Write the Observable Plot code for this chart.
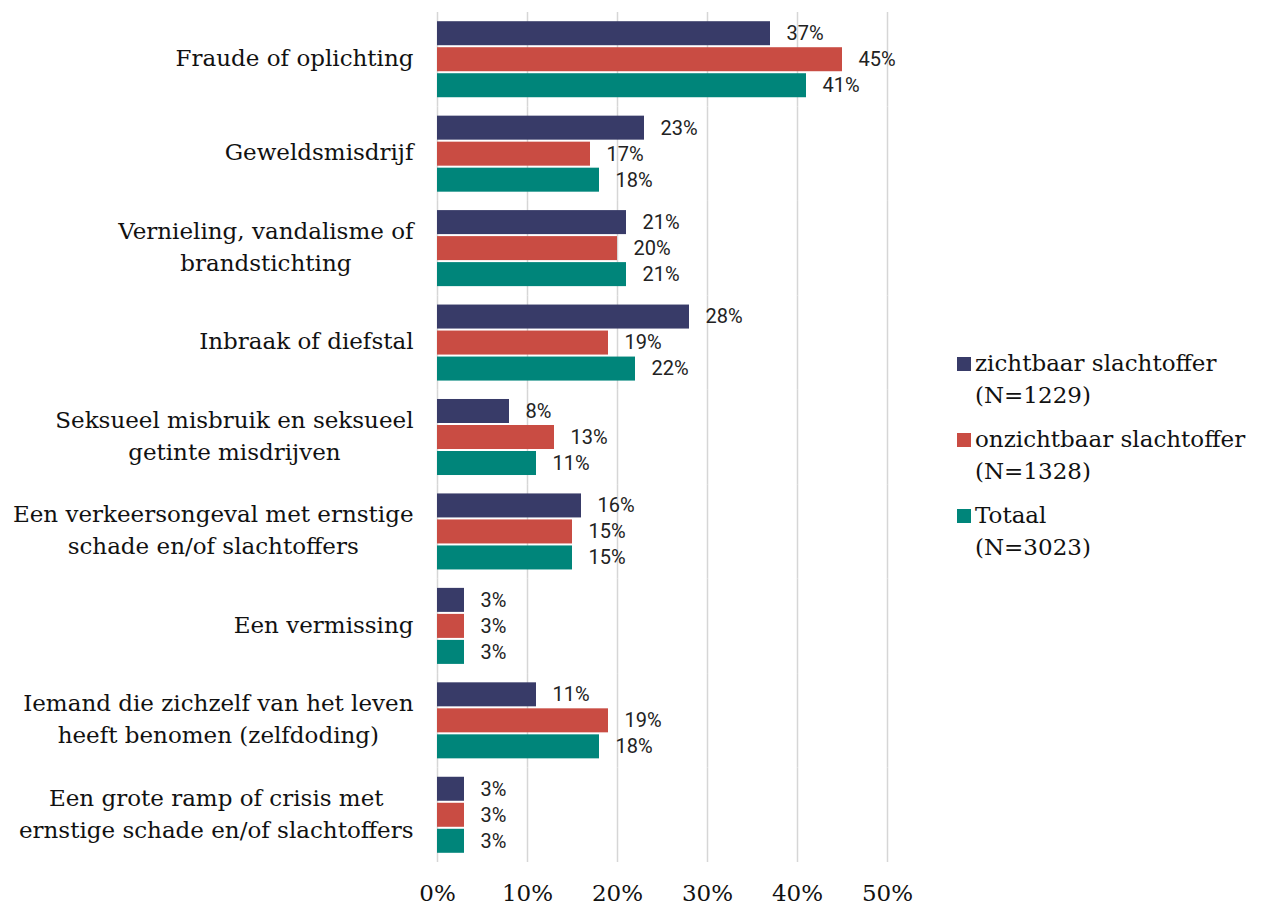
<!DOCTYPE html>
<html>
<head>
<meta charset="utf-8">
<script src="https://cdn.jsdelivr.net/npm/d3@7"></script>
<script src="https://cdn.jsdelivr.net/npm/@observablehq/plot@0.6"></script>
<style>
  html, body { margin: 0; padding: 0; background: #fff; }
  #wrap { position: relative; width: 1268px; height: 906px; overflow: hidden; }
  #legend { position: absolute; left: 957px; top: 347px; font-family: "DejaVu Serif", serif; font-size: 23px; color: #111; line-height: 32px; white-space: nowrap; }
  .item { display: flex; align-items: flex-start; margin-bottom: 12px; }
  .sw { width: 14px; height: 14px; margin-right: 4px; margin-top: 10px; flex: none; }
</style>
</head>
<body>
<div id="wrap"><div id="legend"></div></div>
<script>
const categories = [
  "Fraude of oplichting",
  "Geweldsmisdrijf",
  "Vernieling, vandalisme of\nbrandstichting",
  "Inbraak of diefstal",
  "Seksueel misbruik en seksueel\ngetinte misdrijven",
  "Een verkeersongeval met ernstige\nschade en/of slachtoffers",
  "Een vermissing",
  "Iemand die zichzelf van het leven\nheeft benomen (zelfdoding)",
  "Een grote ramp of crisis met\nernstige schade en/of slachtoffers"
];
const series = ["zichtbaar slachtoffer", "onzichtbaar slachtoffer", "Totaal"];
const seriesN = ["(N=1229)", "(N=1328)", "(N=3023)"];
const colors = ["#383b68", "#c94c43", "#00857a"];
const zichtbaar   = [37, 23, 21, 28, 8, 16, 3, 11, 3];
const onzichtbaar = [45, 17, 20, 19, 13, 15, 3, 19, 3];
const totaal      = [41, 18, 21, 22, 11, 15, 3, 18, 3];
const xTicks = [0, 10, 20, 30, 40, 50];

const values = [zichtbaar, onzichtbaar, totaal];
const table = [];
categories.forEach((c, i) => series.forEach((s, j) => table.push({category: c, series: s, value: values[j][i]})));

const serifFont = '"DejaVu Serif", serif';
const labelSize = 23;
const ctx = document.createElement("canvas").getContext("2d");
ctx.font = `${labelSize}px ${serifFont}`;
const blockWidth = c => Math.max(...c.split("\n").map(l => ctx.measureText(l).width));

const labelMarks = categories.map(c => Plot.text(table, {
  filter: d => d.category === c && d.series === series[1],
  y: "series",
  frameAnchor: "left",
  text: "category",
  textAnchor: "middle",
  dx: -(24 + blockWidth(c) / 2),
  dy: -4,
  lineHeight: 32 / labelSize,
  fontFamily: serifFont,
  fontSize: labelSize,
  fill: "#111"
}));

const chart = Plot.plot({
  width: 1268,
  height: 906,
  marginLeft: 437,
  marginRight: 381,
  marginTop: 12,
  marginBottom: 44,
  facet: {data: table, y: "category"},
  fy: {domain: categories, padding: 0, round: false, axis: null},
  y: {domain: series, paddingInner: 0.077, paddingOuter: 0.354, round: false, axis: null},
  x: {domain: [0, 50], ticks: xTicks, tickFormat: d => d + "%", tickSize: 0, tickPadding: 22, label: null},
  color: {domain: series, range: colors},
  style: {fontFamily: serifFont, fontSize: "23px", color: "#111", background: "#fff"},
  marks: [
    Plot.ruleX(xTicks, {stroke: "#d6d6d6", strokeWidth: 1.5, strokeOpacity: 1}),
    Plot.barX(table, {y: "series", x: "value", fill: "series"}),
    Plot.text(table, {y: "series", x: "value", text: d => d.value + "%", textAnchor: "start", dx: 16,
      fontFamily: "Roboto, sans-serif", fontSize: 20, fill: "#222"}),
    ...labelMarks
  ]
});
document.getElementById("wrap").prepend(chart);

const legend = document.getElementById("legend");
series.forEach((s, i) => {
  const item = document.createElement("div");
  item.className = "item";
  item.innerHTML = `<span class="sw" style="background:${colors[i]}"></span><span>${s}<br>${seriesN[i]}</span>`;
  legend.appendChild(item);
});
</script>
</body>
</html>
